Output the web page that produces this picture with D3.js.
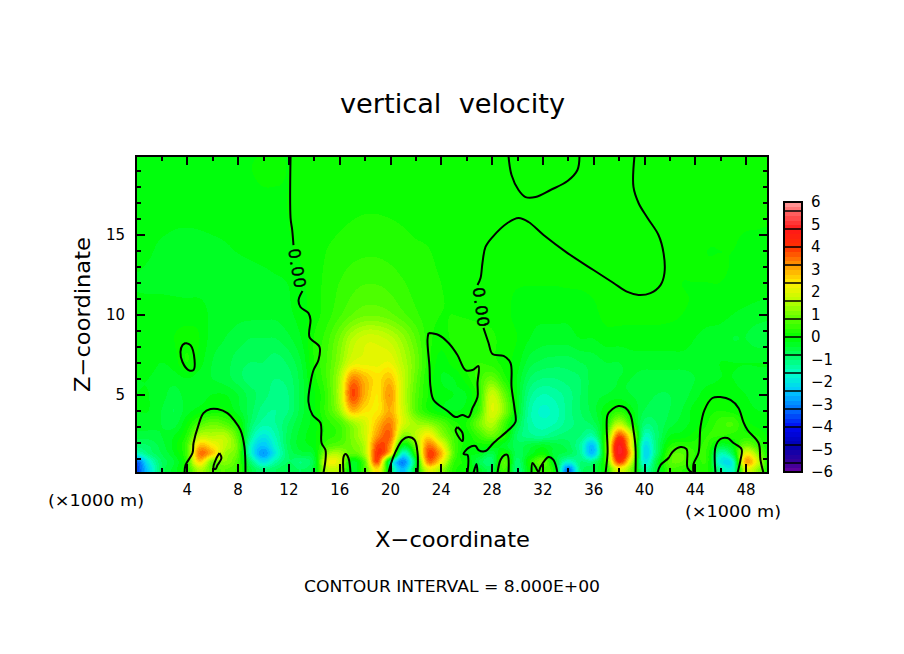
<!DOCTYPE html>
<html>
<head>
<meta charset="utf-8">
<script src="https://cdn.jsdelivr.net/npm/d3@7"></script>
<style>
  html, body { margin: 0; background: #fff; }
  text { font-family: "DejaVu Sans", sans-serif; fill: #000; }
</style>
</head>
<body>
<svg id="chart" width="904" height="654"></svg>
<script>
// heights (km) of the rows in wRows, columns are every 1 km from x=0 to x=50
const zLevels = [0.3, 0.8, 1.3, 1.8, 2.4, 3.2, 4, 5, 6, 7, 8.5, 10, 12, 14, 16, 18, 20];
const xStations = d3.range(0, 51);

// vertical velocity, one line of 10 values per 10 km
const wRows = [
  [-3.6,-2.2,-.8,-.3,.3,1.5,.8,.8,.5,-.5,
   -1,-.8,-.6,-.8,-.4,1.5,1.5,-.3,.6,2.5,
   -.5,-2.5,-.3,2,1.4,.3,.1,-.3,-.6,.6,
   -1,0,.5,0,-3.2,-1,-.6,.2,2,1,
   -1.2,-.5,.5,.4,.2,.2,-1.2,-1.5,1.8,1.2,
   -.2],
  [-3.4,-1.8,-.8,-.4,.4,2.7,1,1.2,.6,-.9,
   -2,-1.3,-.8,-1,-.5,2,2,-.2,.8,3.8,
   -.8,-3,-.6,3.4,2.4,.5,.1,-.6,-.9,.8,
   -.9,.2,.9,-.4,-1.6,-1,-1,.5,4,1.8,
   -1.8,-.5,.7,.8,.3,.3,-1.8,-1.6,3,1.8,
   -.2],
  [-1.6,-1,-.6,-.2,.6,3.4,2.8,1.4,.8,-1.5,
   -2.8,-1.8,-.8,-.5,-.3,1.3,1.5,.8,1.5,4,
   2.6,-1.7,.4,3.8,3,.8,-.1,-.2,-.6,.2,
   -.7,-.3,.1,-.5,-.7,-1.2,-2.4,.7,4.8,2.6,
   -2,-.9,.6,.8,.4,.3,-1.4,-.6,2.2,1.2,
   -.2],
  [-.9,-.8,-.5,-.1,.6,2.8,2.4,1.7,.9,-1.5,
   -2.4,-1.6,-.7,-.3,-.1,.6,.8,1,1.6,3.8,
   3.2,-.2,1,3.4,2.4,.7,.1,.1,0,-.3,
   -.7,-.5,-.3,-.5,-.7,-1.3,-2.4,.8,4.8,2.2,
   -1.9,-.9,.2,.4,.3,.4,-.4,-.1,1,.5,
   -.1],
  [-.5,-.5,-.4,-.2,.3,1.6,1.6,1.6,.7,-1.1,
   -1.9,-1.4,-.7,-.3,-.05,.3,.5,1.1,1.8,3.2,
   3.6,1.2,1.6,2.5,1.4,.6,.1,.5,.9,.3,
   -.8,-1.1,-1.2,-1,-.9,-1,-1.3,.5,3.8,2,
   -1.4,-.9,-.2,-.1,.1,.4,.4,.3,.3,.2,
   -.1],
  [-.3,-.3,-.4,-.5,0,.6,.9,.7,.2,-.8,
   -1.3,-1.2,-.8,-.4,-.1,.3,.6,1.3,1.9,2.8,
   3.4,2,1.4,1.2,.8,.3,.2,1,1.6,.6,
   -.5,-1.3,-1.5,-1.4,-1.1,-.9,-.7,.1,1.6,.4,
   -.9,-.8,-.5,-.3,-.1,.2,.5,.6,.1,-.1,
   -.2],
  [-.2,-.2,-.4,-.6,-.3,-.1,.05,.05,-.3,-.7,
   -1.1,-1.2,-1,-.5,-.05,.5,1.3,2.9,2.5,2.4,
   3,1.9,.8,.2,-.1,-.2,-.1,.5,2,1.2,
   -.2,-1.3,-1.65,-1.5,-1.1,-.8,-.5,-.05,.3,-.1,
   -.6,-.7,-.6,-.4,-.1,.1,.2,.1,-.1,-.2,
   -.2],
  [-.2,-.2,-.3,-.5,-.3,-.3,-.2,-.2,-.4,-.7,
   -.9,-1.1,-1,-.5,-.05,.5,1.6,3.8,3,2.4,
   3.2,1.8,.8,.2,-.1,-.2,-.2,.4,1.8,.9,
   -.2,-1.1,-1.4,-1.3,-1.1,-.8,-.5,-.4,-.3,-.4,
   -.5,-.6,-.6,-.5,-.3,-.05,-.05,-.1,-.2,-.3,
   -.3],
  [-.2,-.2,-.3,-.3,-.2,-.3,-.4,-.5,-.7,-.9,
   -.9,-1,-.9,-.5,.1,.6,1.5,3.3,2.9,2.5,
   2.8,1.8,.9,.2,-.2,-.2,.1,.5,.9,.3,
   -.2,-.8,-1,-1,-.9,-.8,-.5,-.5,-.4,-.4,
   -.5,-.5,-.5,-.5,-.4,-.3,-.2,-.2,-.3,-.3,
   -.3],
  [-.1,-.1,-.2,-.1,.2,-.1,-.4,-.5,-.7,-.8,
   -.8,-.9,-.75,-.4,.2,.6,1.2,2,2.1,2.1,
   2.2,1.6,1,.3,-.1,.1,.3,.4,.3,.1,
   -.1,-.5,-.65,-.7,-.7,-.6,-.5,-.4,-.4,-.3,
   -.3,-.3,-.3,-.3,-.3,-.3,-.2,-.2,-.2,-.2,
   -.2],
  [-.05,-.05,-.1,0,.1,0,-.3,-.4,-.5,-.6,
   -.6,-.6,-.45,-.2,.2,.5,1,1.6,1.9,1.9,
   1.7,1.3,.8,.3,.1,.25,.3,.3,.25,.1,
   0,-.2,-.3,-.3,-.3,-.2,-.2,-.1,-.1,-.1,
   -.1,-.1,-.1,-.1,-.2,-.3,-.3,-.4,-.4,-.5,
   -.5],
  [-.1,-.1,-.1,-.1,-.1,-.1,-.25,-.3,-.35,-.35,
   -.35,-.35,-.25,-.1,.1,.3,.55,.8,.95,.95,
   .85,.65,.45,.28,.2,.2,.18,.15,.12,.05,
   -.05,-.15,-.15,-.15,-.15,-.1,-.05,.05,.05,.05,
   .05,.05,.03,0,-.03,-.08,-.12,-.2,-.25,-.3,
   -.35],
  [-.22,-.24,-.25,-.26,-.27,-.28,-.3,-.32,-.32,-.3,
   -.28,-.24,-.19,-.05,.1,.26,.4,.52,.58,.58,
   .52,.42,.32,.25,.2,.15,.1,.05,.03,.02,
   .01,.01,.01,.01,.02,.02,.03,.03,.03,.03,
   .03,.02,.01,0,0,0,0,-.03,-.05,-.08,
   -.1],
  [-.1,-.17,-.24,-.26,-.26,-.26,-.25,-.23,-.19,-.16,
   -.12,-.08,-.03,.03,.08,.2,.27,.33,.36,.36,
   .33,.29,.24,.21,.14,.06,.03,.02,.01,.01,
   .01,.01,.01,.01,.01,.01,.01,.01,.01,.01,
   .01,.01,.01,.01,.01,0,0,0,-.02,-.03,
   -.05],
  [-.05,-.08,-.12,-.16,-.17,-.16,-.14,-.12,-.1,-.08,
   -.05,-.03,0,.03,.06,.1,.15,.19,.22,.22,
   .2,.17,.13,.1,.07,.05,.03,.02,.01,.01,
   .01,.01,.01,.01,.01,.01,.01,.01,.01,.01,
   .01,.01,.01,.01,.01,.01,.01,.01,.01,.01,
   .01],
  [-.02,-.03,-.04,-.05,-.05,-.05,-.04,-.03,-.02,-.01,
   0,0,0,.01,.02,.03,.05,.06,.07,.07,
   .06,.05,.04,.03,.02,.02,.01,.01,.01,.01,
   .01,.01,.01,.01,.01,.01,.01,.01,.01,.01,
   .01,.01,.01,.01,.01,.01,.01,.01,.01,.01,
   .01],
  [0,0,0,0,0,0,0,0,0,0,
   0,0,0,0,0,.01,.01,.01,.01,.01,
   .01,.01,.01,.01,.01,.01,.01,.01,.01,.01,
   .01,.01,.01,.01,.01,.01,.01,.01,.01,.01,
   .01,.01,.01,.01,.01,.01,.01,.01,.01,.01,
   .01]
];

// zero contour as [x km, z km]
const zeroContours = [
  [[12.17,19.9],[12.17,16.03],[12.3,15.28],[12.4,14.34]],
  [[13.11,11.47],[12.8,10.9],[12.95,10.47],[13.58,10.09],[13.74,9.66],[13.66,8.59],[14.45,7.97],[14.37,7.16],[13.98,6.53],[13.74,5.72],[13.58,4.53],[13.9,3.72],[14.53,3.22],[14.61,1.97],[14.92,1.53],[14.92,.91],[14.76,.09]],
  [[3.9,8.22],[4.29,8.09],[4.61,7.16],[4.53,6.53],[4.13,6.53],[3.66,7.03],[3.5,7.66],[3.66,8.09],[3.9,8.22]],
  [[3.82,.09],[3.9,.59],[4.45,1.34],[4.53,1.97],[4.92,3.09],[5.31,3.84],[5.87,4.09],[6.42,4.09],[7.2,3.84],[7.83,3.28],[8.23,2.78],[8.54,1.72],[8.62,.09]],
  [[6.57,1.34],[6.73,1.03],[6.42,.59],[6.26,.34],[6.1,.41],[6.34,1.03],[6.57,1.34]],
  [[16.34,.09],[16.34,1.09],[16.5,1.28],[16.73,1.03],[16.89,.09]],
  [[19.88,.09],[20.04,.59],[20.43,1.41],[20.98,2.16],[21.46,2.34],[21.93,2.16],[22.17,1.34],[22.17,.09]],
  [[23.03,8.84],[23.82,8.72],[24.61,8.22],[25.31,7.47],[25.94,6.53],[26.5,6.53],[26.97,6.78],[26.89,5.72],[26.89,4.84],[26.5,4.16],[26.18,3.59],[25.71,3.72],[25.16,3.59],[24.53,3.97],[23.43,4.66],[23.19,5.47],[23.11,6.72],[22.95,8.41],[23.03,8.84]],
  [[25.31,2.97],[25.71,2.59],[25.71,2.09],[25.31,2.47],[25.16,2.78],[25.31,2.97]],
  [[27.36,9.16],[27.76,8.22],[28.07,7.53],[28.94,7.41],[29.49,6.97],[29.57,5.47],[29.8,4.16],[29.88,3.28],[29.33,2.78],[28.15,1.97],[27.52,1.47],[26.97,1.53],[26.73,1.78],[26.18,1.66],[25.79,1.28],[26.1,1.22],[26.1,.09]],
  [[26.57,.09],[26.81,.66],[26.89,.09]],
  [[28.46,.09],[28.7,.91],[29.02,1.22],[29.25,1.22],[29.33,.09]],
  [[31.14,.09],[31.22,.72],[31.46,.47],[31.69,.16],[31.85,.47],[32.48,1.09],[32.87,.91],[33.19,.09]],
  [[36.97,.09],[37.13,1.34],[37.13,3.72],[37.52,4.09],[37.99,4.28],[38.54,4.16],[38.94,3.72],[39.17,2.78],[39.33,1.72],[39.33,.09]],
  [[41.06,.09],[41.3,.59],[41.93,1.03],[42.24,1.41],[42.87,1.72],[43.35,1.59],[43.43,.41],[43.82,.09]],
  [[43.9,.09],[43.9,.66],[44.29,1.34],[44.45,2.97],[44.76,4.03],[45.39,4.78],[46.02,4.84],[46.81,4.66],[47.44,4.16],[47.83,3.28],[48.15,2.78],[49.02,1.97],[49.17,.91],[49.41,.09]],
  [[45.63,.09],[45.63,1.72],[46.02,2.22],[46.57,2.28],[47.05,1.97],[47.68,1.59],[47.6,.91],[47.36,.09]],
  [[29.33,19.9],[29.57,18.72],[30.12,17.78],[30.67,17.34],[31.46,17.34],[32.64,17.78],[33.98,18.34],[34.76,19.03],[34.92,19.9]],
  [[39.25,19.9],[39.17,17.97],[39.57,16.97],[40.28,16.03],[41.14,14.97],[41.54,13.84],[41.61,12.59],[41.3,11.84],[40.51,11.34],[39.57,11.22],[38.7,11.41],[37.6,11.97],[36.02,12.78],[33.98,13.84],[32.09,14.97],[30.91,15.78],[30.12,16.03],[29.25,15.72],[28.07,14.84],[27.52,14.22],[27.28,13.22],[27.13,12.28],[26.89,11.84]]
];

// contour labels sit in the gaps of the zero line
const contourLabels = [
  { text: "0.00", x: 12.72, z: 12.9, angle: 80 },
  { text: "0.00", x: 27.2, z: 10.47, angle: 82 }
];

const xMajor = [4, 8, 12, 16, 20, 24, 28, 32, 36, 40, 44, 48];
const xMinor = [2, 6, 10, 14, 18, 22, 26, 30, 34, 38, 42, 46];
const zMajor = [5, 10, 15];
const zMinor = [1, 2, 3, 4, 6, 7, 8, 9, 11, 12, 13, 14, 16, 17, 18, 19];
const barTicks = [6, 5, 4, 3, 2, 1, 0, -1, -2, -3, -4, -5, -6];
const barEdges = [-5.6, -4.8, -4, -3.2, -2.4, -1.6, -.8, 0, .8, 1.6, 2.4, 3.2, 4, 4.8, 5.6];

const colorStops = [-6, -5.6, -4.8, -4, -3.2, -2.4, -1.6, -.8, 0, .8, 1.6, 2.4, 3.2, 4, 4.8, 5.6, 6];
const colorValues = ["#6a00a0", "#3a0098", "#0000b0", "#0008f0", "#0070ff", "#00c8ff", "#00ffc8", "#00ff60",
  "#00ff00", "#58ff00", "#b8ff00", "#fff000", "#ff9800", "#ff3000", "#ff1818", "#ff6868", "#ffa0a0"];

const plot = { left: 136, right: 768, top: 156, bottom: 473 };
const bar = { left: 784, right: 802, top: 202, bottom: 472 };

const x = d3.scaleLinear([0, 632 / 12.7], [plot.left, plot.right]);
const z = d3.scaleLinear([0.094, 19.906], [plot.bottom, plot.top]);
const color = d3.scaleLinear(colorStops, colorValues).interpolate(d3.interpolateRgb);
const bands = d3.range(-30, 30).map(i => i * 0.2);

const svg = d3.select("#chart");

function catmull(a, b, c, d, t) {
  return 0.5 * (2 * b + (c - a) * t + (2 * a - 5 * b + 4 * c - d) * t * t + (3 * b - a - 3 * c + d) * t * t * t);
}

function sample(arr, pos) {
  const n = arr.length - 1;
  const i = Math.min(Math.floor(pos), n - 1);
  const at = k => arr[Math.max(0, Math.min(n, k))];
  return catmull(at(i - 1), at(i), at(i + 1), at(i + 2), pos - i);
}

// resample the read values onto the pixel grid for d3.contours
const w = plot.right - plot.left;
const h = plot.bottom - plot.top;
const rowIndex = d3.scaleLinear(zLevels, zLevels.map((_, i) => i)).clamp(true);
const columnIndex = d3.scaleLinear(xStations, xStations.map((_, i) => i)).clamp(true);
const alongX = wRows.map(row => d3.range(w).map(i => sample(row, columnIndex(x.invert(plot.left + i + 0.5)))));
const field = new Float64Array(w * h);
for (let j = 0; j < h; j++) {
  const pos = rowIndex(z.invert(plot.top + j + 0.5));
  for (let i = 0; i < w; i++) {
    field[j * w + i] = sample(alongX.map(r => r[i]), pos);
  }
}

const contours = d3.contours().size([w, h]).smooth(true).thresholds(bands);
const path = d3.geoPath();

svg.append("rect")
  .attr("x", plot.left).attr("y", plot.top)
  .attr("width", w).attr("height", h)
  .attr("fill", "#00ff00");

svg.append("g")
  .attr("transform", `translate(${plot.left},${plot.top})`)
  .selectAll("path")
  .data(contours(field))
  .join("path")
  .attr("d", path)
  .attr("fill", d => color(d.value + 0.1))
  .attr("shape-rendering", "crispEdges");

// zero contour and its labels
svg.append("clipPath").attr("id", "plot-clip").append("rect")
  .attr("x", plot.left).attr("y", plot.top).attr("width", w).attr("height", h);

const contourLine = d3.line().x(d => x(d[0])).y(d => z(d[1])).curve(d3.curveCatmullRom.alpha(0.5));
svg.append("g")
  .attr("clip-path", "url(#plot-clip)")
  .selectAll("path")
  .data(zeroContours)
  .join("path")
  .attr("d", contourLine)
  .attr("fill", "none")
  .attr("stroke", "#000")
  .attr("stroke-width", 2)
  .attr("stroke-linejoin", "round");

svg.append("g")
  .selectAll("text")
  .data(contourLabels)
  .join("text")
  .attr("transform", d => `translate(${x(d.x)},${z(d.z)}) rotate(${d.angle})`)
  .attr("text-anchor", "middle")
  .attr("dy", "0.36em")
  .attr("font-size", 17)
  .attr("textLength", 39)
  .attr("stroke", "#000")
  .attr("stroke-width", 0.5)
  .style("font-family", "'Liberation Sans', sans-serif")
  .text(d => d.text);

// ticks on all four sides, frame on top
function addAxis(axis, values, size, dx, dy, labelled) {
  const g = svg.append("g")
    .attr("transform", `translate(${dx},${dy})`)
    .call(axis.tickValues(values).tickSizeInner(-size).tickSizeOuter(0).tickPadding(labelled ? 11 : 0));
  g.select(".domain").remove();
  g.selectAll("line").attr("stroke", "#000").attr("stroke-width", 2).attr("shape-rendering", "crispEdges");
  if (labelled) {
    g.selectAll("text").attr("font-size", 15).style("font-family", "'DejaVu Sans', sans-serif").attr("fill", "#000");
  } else {
    g.selectAll("text").remove();
  }
  return g;
}

addAxis(d3.axisBottom(x), xMajor, 9, 0, plot.bottom, true);
addAxis(d3.axisBottom(x), xMinor, 5, 0, plot.bottom, false);
addAxis(d3.axisTop(x), xMajor, 9, 0, plot.top, false);
addAxis(d3.axisTop(x), xMinor, 5, 0, plot.top, false);
addAxis(d3.axisLeft(z), zMajor, 9, plot.left, 0, true);
addAxis(d3.axisLeft(z), zMinor, 5, plot.left, 0, false);
addAxis(d3.axisRight(z), zMajor, 9, plot.right, 0, false);
addAxis(d3.axisRight(z), zMinor, 5, plot.right, 0, false);

svg.append("rect")
  .attr("x", plot.left).attr("y", plot.top)
  .attr("width", w).attr("height", h)
  .attr("fill", "none").attr("stroke", "#000").attr("stroke-width", 2)
  .attr("shape-rendering", "crispEdges");

// colour bar
const barY = d3.scaleLinear([-6, 6], [bar.bottom, bar.top]);
const barG = svg.append("g");
barG.selectAll("rect")
  .data(bands)
  .join("rect")
  .attr("x", bar.left)
  .attr("width", bar.right - bar.left)
  .attr("y", d => barY(d + 0.2))
  .attr("height", barY(0) - barY(0.2) + 0.5)
  .attr("fill", d => color(d + 0.1))
  .attr("shape-rendering", "crispEdges");
barG.selectAll("line")
  .data(barEdges)
  .join("line")
  .attr("x1", bar.left).attr("x2", bar.right)
  .attr("y1", d => barY(d)).attr("y2", d => barY(d))
  .attr("stroke", "#000").attr("stroke-width", 1.5);
barG.append("rect")
  .attr("x", bar.left).attr("y", bar.top)
  .attr("width", bar.right - bar.left).attr("height", bar.bottom - bar.top)
  .attr("fill", "none").attr("stroke", "#000").attr("stroke-width", 2)
  .attr("shape-rendering", "crispEdges");
barG.selectAll("text")
  .data(barTicks)
  .join("text")
  .attr("x", 811)
  .attr("y", d => barY(d))
  .attr("dy", "0.36em")
  .attr("font-size", 15)
  .text(d => d3.format("d")(d).replace("-", "\u2212"));

// titles
function label(text, px, py, size, length, rotate) {
  return svg.append("text")
    .attr("transform", `translate(${px},${py})` + (rotate ? ` rotate(${rotate})` : ""))
    .attr("font-size", size)
    .attr("textLength", length)
    .attr("lengthAdjust", "spacingAndGlyphs")
    .text(text);
}

label("vertical  velocity", 340, 113, 26, 225).style("white-space", "pre");
label("X\u2212coordinate", 375, 547, 21, 155);
label("Z\u2212coordinate", 90, 392, 21, 155, -90);
label("CONTOUR INTERVAL = 8.000E+00", 304, 592, 16, 296);
label("(\u00d71000 m)", 48, 506, 15, 96);
label("(\u00d71000 m)", 685, 517, 15, 96);
</script>
</body>
</html>
